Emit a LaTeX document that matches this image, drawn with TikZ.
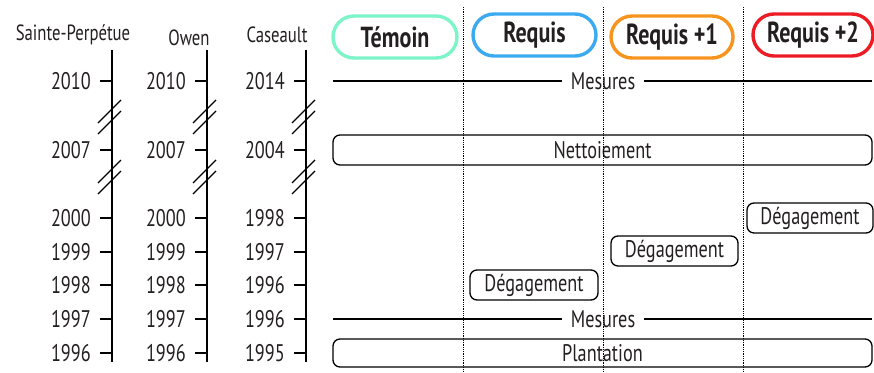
\documentclass[tikz,border=0pt]{standalone}
\usepackage{fontspec}
\setmainfont{PT Sans}[FakeStretch=0.76]
\definecolor{ink}{RGB}{35,31,32}
\definecolor{mint}{RGB}{125,245,200}
\definecolor{skyb}{RGB}{60,170,240}
\definecolor{orng}{RGB}{247,148,30}
\definecolor{redd}{RGB}{237,28,36}
\begin{document}
\begin{tikzpicture}[x=1pt,y=-1pt,
  year/.style={anchor=east,inner sep=0pt,text=ink,font=\fontsize{24}{24}\selectfont},
  station/.style={inner sep=0pt,text=ink,font=\fontsize{22}{22}\selectfont},
  axisline/.style={line width=1.7pt,draw=black},
  tickline/.style={line width=1.7pt,draw=black},
  breakline/.style={line width=1.2pt,draw=black},
  pill/.style={draw,line width=3.4pt,rounded corners=21pt,minimum height=42pt,inner sep=0pt,text=ink,font=\bfseries\fontsize{29}{29}\selectfont},
  evt/.style={draw,line width=1.3pt,rounded corners=7pt,minimum height=30pt,inner sep=0pt,text=ink,font=\fontsize{24}{24}\selectfont},
  mes/.style={fill=white,inner xsep=9pt,inner ysep=2pt,text=ink,font=\fontsize{24}{24}\selectfont},
  mesline/.style={line width=1.3pt},
  sep/.style={densely dotted,line width=0.8pt}]
\useasboundingbox (0,0) rectangle (874,372);

% station headers
\node[station] (s1) at (73,35) {Sainte-Perpétue};
\node[station] (s2) at (189,38) {Owen};
\node[station] (s3) at (277,35) {Caseault};

% axes
\foreach \n/\x in {1/112,2/207,3/306}{
  \coordinate (top\n) at (\x,50);
  \coordinate (bot\n) at (\x,362);
  \draw[axisline] (top\n) -- (bot\n);
  \foreach \b/\y in {a/117,b/177}{
    \coordinate (br\n\b1s) at (\x-14,\y+6);
    \coordinate (br\n\b1e) at (\x+9,\y-17);
    \coordinate (br\n\b2s) at (\x-14,\y+17);
    \coordinate (br\n\b2e) at (\x+9,\y-6);
    \draw[breakline] (br\n\b1s) -- (br\n\b1e);
    \draw[breakline] (br\n\b2s) -- (br\n\b2e);
  }
}

% ticks and years
\foreach \n/\x/\ya/\yb/\yc/\yd/\ye/\yf/\yg in {
  1/112/2010/2007/2000/1999/1998/1997/1996,
  2/207/2010/2007/2000/1999/1998/1997/1996,
  3/306/2014/2004/1998/1997/1996/1996/1995}{
  \foreach \k/\yy/\lab in {1/81/\ya,2/150/\yb,3/218/\yc,4/252/\yd,5/285/\ye,6/319/\yf,7/353/\yg}{
    \coordinate (t\n\k) at (\x-12,\yy);
    \coordinate (a\n\k) at (\x,\yy);
    \draw[tickline] (t\n\k) -- (a\n\k);
    \node[year] (y\n\k) at (\x-21,\yy) {\lab};
  }
}

% treatment pills
\node[pill,draw=mint,minimum width=124pt] (temoin) at (395,37) {Témoin};
\node[pill,draw=skyb,minimum width=123pt] (requis) at (534.5,35) {Requis};
\node[pill,draw=orng,minimum width=122pt] (requis1) at (672,37) {Requis +1};
\node[pill,draw=redd,minimum width=120pt] (requis2) at (813,35) {Requis +2};

% Mesures lines
\coordinate (m1l) at (333,81);
\coordinate (m1r) at (872,81);
\node[mes] (m1) at (603,81) {Mesures};
\draw[mesline] (m1l) -- (m1);
\draw[mesline] (m1) -- (m1r);
\coordinate (m2l) at (333,319);
\coordinate (m2r) at (872,319);
\node[mes] (m2) at (603,319) {Mesures};
\draw[mesline] (m2l) -- (m2);
\draw[mesline] (m2) -- (m2r);

% events
\node[evt,minimum width=539pt] (nett) at (602.5,150) {Nettoiement};
\node[evt,minimum width=539pt,minimum height=28pt] (plant) at (602.5,353) {Plantation};
\node[evt,minimum width=128pt] (deg1) at (534,285) {Dégagement};
\node[evt,minimum width=127pt] (deg2) at (674.5,251) {Dégagement};
\node[evt,minimum width=126pt] (deg3) at (810,218) {Dégagement};

% dotted separators
\foreach \n/\x in {1/463.5,2/603.5,3/743.5}{
  \coordinate (d\n t) at (\x,7);
  \coordinate (d\n b) at (\x,372);
  \draw[sep] (d\n t) -- (d\n b);
}
\end{tikzpicture}
\end{document}
